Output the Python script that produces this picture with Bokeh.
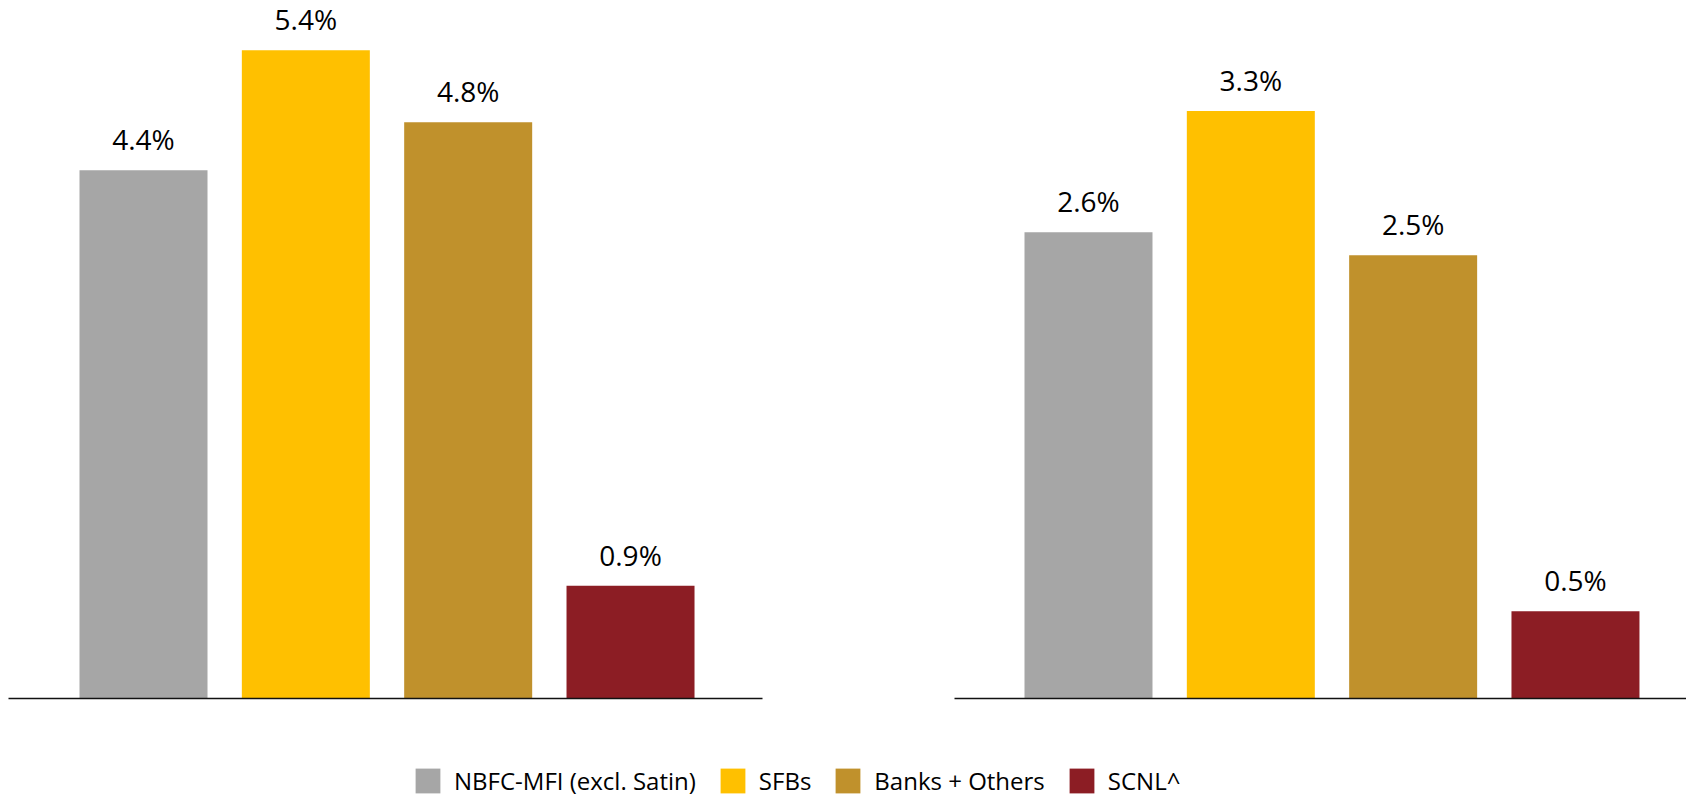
from bokeh.plotting import figure
from bokeh.layouts import column, row
from bokeh.models import ColumnDataSource, Range1d, FixedTicker, Legend, LegendItem
from bokeh.core.properties import value, field
from bokeh.embed import file_html
from bokeh.resources import INLINE

# ---- data ----
categories = ["NBFC-MFI (excl. Satin)", "SFBs", "Banks + Others", "SCNL^"]
left_values = [4.40, 5.40, 4.80, 0.94]
right_values = [2.62, 3.30, 2.49, 0.49]
colors = ["#A6A6A6", "#FFC000", "#C0912C", "#8C1D24"]

FONT = "Open Sans"
BAR_W = 0.7885


def make_source(vals):
    return ColumnDataSource(dict(
        x=list(range(len(categories))),
        top=vals,
        label=[f"{v:.1f}%" for v in vals],
        color=colors,
        category=categories,
    ))


def panel(vals, width, border_left, border_right, border_bottom, x_start, x_end, y_end):
    src = make_source(vals)
    p = figure(width=width, height=740, output_backend="svg", toolbar_location=None,
               x_range=Range1d(x_start, x_end), y_range=Range1d(0, y_end),
               min_border_left=border_left, min_border_right=border_right,
               min_border_top=0, min_border_bottom=border_bottom,
               y_axis_location=None, x_axis_location="below")
    p.outline_line_color = None
    p.xgrid.visible = False
    p.ygrid.visible = False
    p.background_fill_color = "white"
    p.border_fill_color = "white"
    ax = p.xaxis[0]
    ax.ticker = FixedTicker(ticks=[])
    ax.major_tick_out = 0
    ax.major_tick_in = 0
    ax.minor_tick_out = 0
    ax.minor_tick_in = 0
    ax.major_label_text_font_size = "0px"
    ax.major_label_standoff = 0
    ax.axis_line_color = "#111111"
    ax.axis_line_width = 1.4
    p.vbar(x="x", top="top", bottom=0, width=BAR_W, fill_color="color",
           line_color=None, source=src)
    p.text(x="x", y="top", text="label", source=src, text_align="center",
           text_baseline="alphabetic", y_offset=-31, text_font=value(FONT),
           text_font_size="28px", text_color="#000000")
    return p, src


left, lsrc = panel(left_values, 843, 8, 81, 40, -0.8316, 3.813, 700 / 120.4)
right, rsrc = panel(right_values, 843, 111, 0, 42, -0.8255, 3.684, 698 / 178.0)

# ---- legend strip ----
leg = figure(width=1686, height=56, output_backend="svg", toolbar_location=None,
             x_range=Range1d(0, 4), y_range=Range1d(1000, 1001),
             min_border_left=0, min_border_right=0, min_border_top=0, min_border_bottom=0,
             x_axis_location=None, y_axis_location=None)
leg.outline_line_color = None
leg.xgrid.visible = False
leg.ygrid.visible = False
lr = leg.vbar(x="x", top="top", bottom=0, width=BAR_W, fill_color="color",
              line_color=None, source=make_source(left_values))
legend = Legend(items=[LegendItem(label=field("category"), renderers=[lr])],
                location=(412, -1), orientation="horizontal",
                glyph_width=31, glyph_height=31, label_standoff=11, spacing=21,
                padding=0, margin=0, border_line_color=None,
                background_fill_alpha=0,
                label_text_font=FONT, label_text_font_size="24px",
                label_text_color="#000000")
leg.add_layout(legend, "center")

layout = column(row(left, right), leg)
open("out.html", "w").write(file_html(layout, INLINE))
